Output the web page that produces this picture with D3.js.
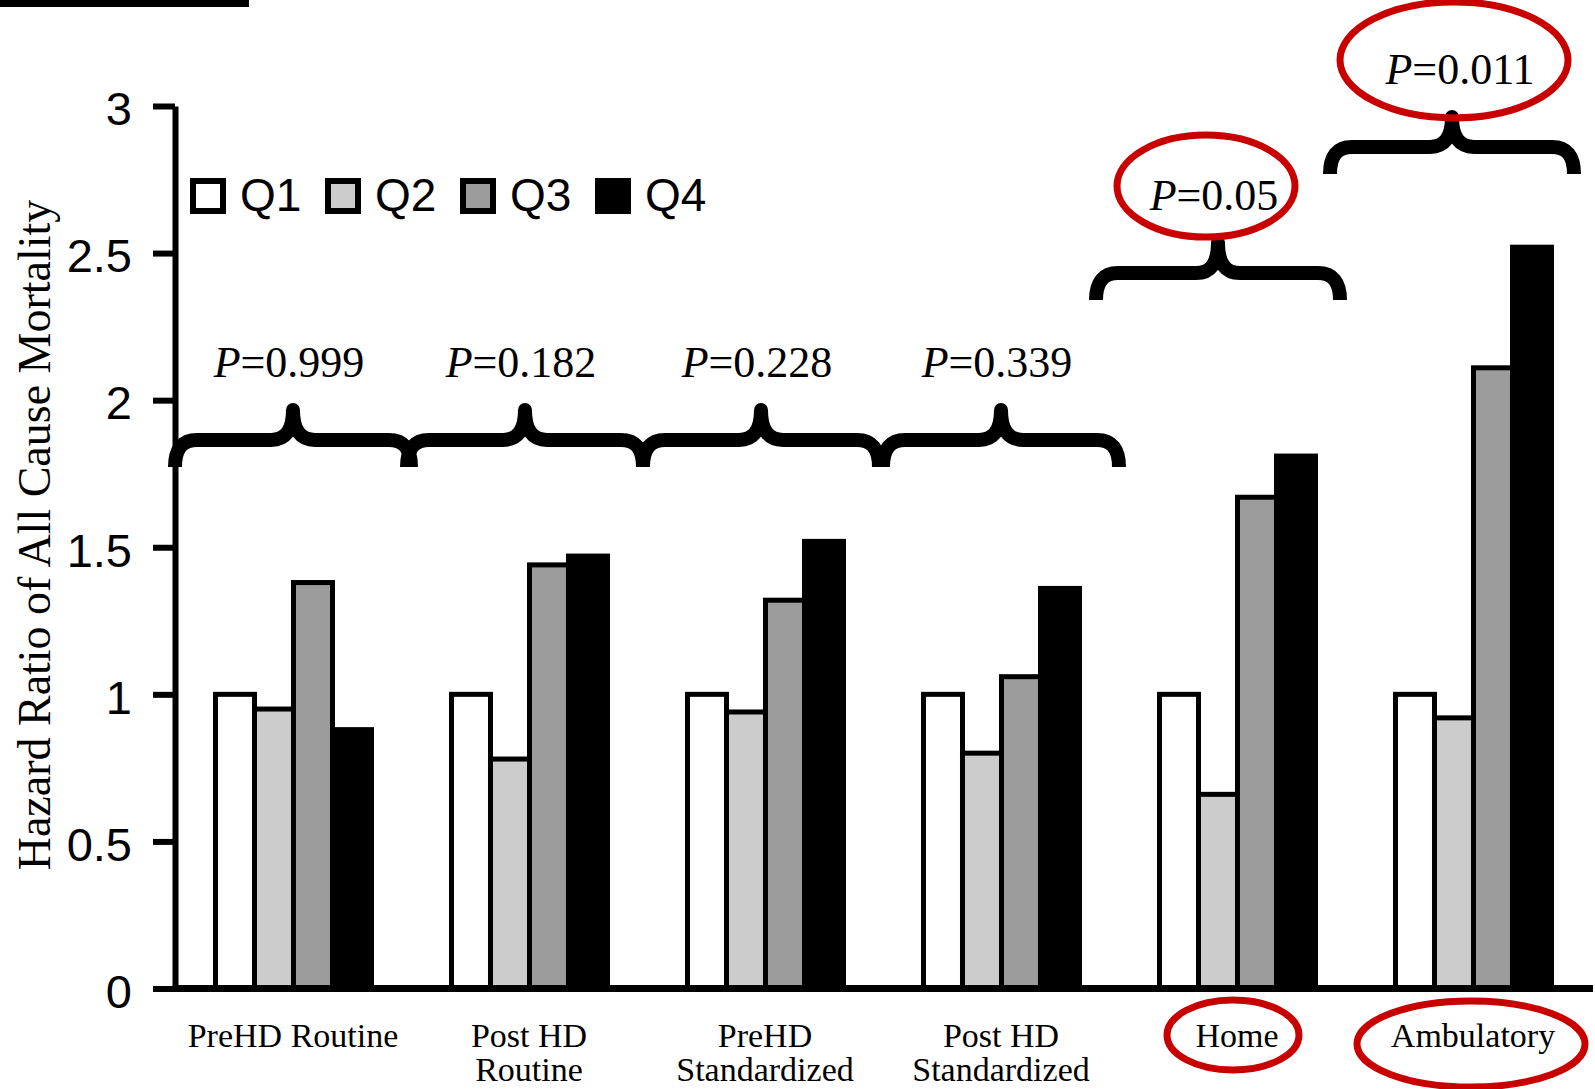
<!DOCTYPE html>
<html>
<head>
<meta charset="utf-8">
<script src="https://cdn.jsdelivr.net/npm/d3@7"></script>
<style>
  html, body { margin: 0; padding: 0; background: #fff; overflow: hidden; }
  svg { display: block; }
</style>
</head>
<body>
<svg id="chart" width="1595" height="1089"></svg>
<script>
// ---------- data ----------
const categories = ["PreHD Routine", "Post HD Routine", "PreHD Standardized", "Post HD Standardized", "Home", "Ambulatory"];
const categoryLines = [["PreHD Routine"], ["Post HD", "Routine"], ["PreHD", "Standardized"], ["Post HD", "Standardized"], ["Home"], ["Ambulatory"]];
const quartiles = ["Q1", "Q2", "Q3", "Q4"];
const q1Values = [1.00, 1.00, 1.00, 1.00, 1.00, 1.00];
const q2Values = [0.95, 0.78, 0.94, 0.80, 0.66, 0.92];
const q3Values = [1.38, 1.44, 1.32, 1.06, 1.67, 2.11];
const q4Values = [0.88, 1.47, 1.52, 1.36, 1.81, 2.52];
const pValues = ["0.999", "0.182", "0.228", "0.339", "0.05", "0.011"];
const highlightedCategories = ["Home", "Ambulatory"];
const highlightedP = ["0.05", "0.011"];
const yTicks = [0, 0.5, 1, 1.5, 2, 2.5, 3];
const yTitle = "Hazard Ratio of All Cause Mortality";

// ---------- layout ----------
const seriesValues = [q1Values, q2Values, q3Values, q4Values];
const fills = ["#ffffff", "#cccccc", "#9c9c9c", "#000000"];
const serif = "'Liberation Serif', 'Times New Roman', serif";
const sans = "'Liberation Sans', Arial, sans-serif";
const red = "#c80000";

const svg = d3.select("#chart");

const y = d3.scaleLinear().domain([0, 3]).range([988.5, 106]);
const x = d3.scaleBand().domain(categories).range([175, 1591])
  .paddingInner(0.322).paddingOuter(0.161);
const xq = d3.scaleBand().domain(quartiles).range([2.5, 2.5 + 156]);

// cropped heading underline at the very top
svg.append("rect").attr("x", 0).attr("y", 0).attr("width", 249).attr("height", 7).attr("fill", "#000");

// bars
const rows = categories.map((c, i) => ({ c, vals: seriesValues.map(s => s[i]) }));
const groups = svg.append("g").selectAll("g").data(rows).join("g")
  .attr("transform", d => `translate(${x(d.c)},0)`);
groups.selectAll("rect").data(d => d.vals.map((v, k) => ({ q: quartiles[k], v, k })))
  .join("rect")
  .attr("x", d => xq(d.q))
  .attr("width", xq.bandwidth())
  .attr("y", d => y(d.v))
  .attr("height", d => y(0) - y(d.v))
  .attr("fill", d => fills[d.k])
  .attr("stroke", "#000")
  .attr("stroke-width", 5);

// y axis
const yAxis = d3.axisLeft(y).tickValues(yTicks).tickSize(22).tickSizeOuter(0).tickPadding(21)
  .tickFormat(d3.format(""));
const gy = svg.append("g").attr("transform", "translate(175,0)").call(yAxis);
gy.select(".domain").attr("stroke", "#000").attr("stroke-width", 6);
gy.selectAll(".tick line").attr("stroke", "#000").attr("stroke-width", 6);
gy.selectAll(".tick text").attr("font-family", sans).attr("font-size", 47).attr("fill", "#000").attr("dy", "0.4em");

// x axis
const xAxis = d3.axisBottom(x).tickSize(0).tickSizeOuter(0).tickPadding(0);
const gx = svg.append("g").attr("transform", `translate(0,${y(0)})`).call(xAxis);
gx.select(".domain").attr("stroke", "#000").attr("stroke-width", 7).attr("d", "M175,0H1593");
gx.selectAll(".tick text").each(function (d, i) {
  const t = d3.select(this);
  t.text(null).attr("font-family", serif).attr("font-size", 34).attr("fill", "#000").attr("y", 0).attr("dy", null);
  categoryLines[i].forEach((line, j) => {
    t.append("tspan").attr("x", 0).attr("y", 58.5 + j * 34).text(line);
  });
});

// y title
svg.append("text")
  .attr("transform", `translate(50,535) rotate(-90)`)
  .attr("text-anchor", "middle")
  .attr("font-family", serif).attr("font-size", 46).attr("fill", "#000")
  .text(yTitle);

// legend
const legend = svg.append("g");
quartiles.forEach((q, k) => {
  const lx = 190 + k * 135;
  legend.append("rect").attr("x", lx + 3).attr("y", 181).attr("width", 30).attr("height", 30)
    .attr("fill", fills[k]).attr("stroke", "#000").attr("stroke-width", 6);
  legend.append("text").attr("x", lx + 50).attr("y", 211)
    .attr("font-family", sans).attr("font-size", 46).attr("fill", "#000").text(q);
});

// braces with P values
const braceLevels = [1.865, 1.865, 1.865, 1.865, 2.432, 2.861];
const braceShift = [0, -4, -4, 0, -19, -21];
const braceHalf = [118, 118, 118, 118, 122, 122];
const labelShift = [-4, -4, -4, -4, -4, 8];
function bracePath(xc, half, yb) {
  const x0 = xc - half, x1 = xc + half, r = 22, d = 27, h = 30;
  return `M${x0},${yb + d} Q${x0},${yb} ${x0 + r},${yb} L${xc - r},${yb} Q${xc},${yb} ${xc},${yb - h}` +
         ` Q${xc},${yb} ${xc + r},${yb} L${x1 - r},${yb} Q${x1},${yb} ${x1},${yb + d}`;
}
const ann = svg.append("g");
categories.forEach((c, i) => {
  const xc = x(c) + x.bandwidth() / 2 + braceShift[i];
  const yb = y(braceLevels[i]);
  ann.append("path").attr("d", bracePath(xc, braceHalf[i], yb))
    .attr("fill", "none").attr("stroke", "#000").attr("stroke-width", 14)
    .attr("stroke-linejoin", "round");
  const t = ann.append("text").attr("x", xc + labelShift[i]).attr("y", yb - 63).attr("text-anchor", "middle")
    .attr("font-family", serif).attr("font-size", 44).attr("fill", "#000");
  t.append("tspan").attr("font-style", "italic").text("P");
  t.append("tspan").text("=" + pValues[i]);
});

// red highlight ellipses
const hl = svg.append("g").attr("fill", "none").attr("stroke", red).attr("stroke-width", 7);
highlightedP.forEach(p => {
  const i = pValues.indexOf(p);
  const xc = x(categories[i]) + x.bandwidth() / 2 + braceShift[i];
  const yb = y(braceLevels[i]);
  const long = p.length > 4;
  hl.append("ellipse").attr("cx", xc + (long ? 2 : -12)).attr("cy", yb - 87)
    .attr("rx", long ? 114 : 89).attr("ry", long ? 58 : 51);
});
highlightedCategories.forEach(c => {
  const xc = x(c) + x.bandwidth() / 2;
  const long = c.length > 5;
  hl.append("ellipse").attr("cx", xc - (long ? 2 : 4)).attr("cy", long ? 1044 : 1035)
    .attr("rx", long ? 114 : 66).attr("ry", long ? 43 : 35);
});
</script>
</body>
</html>
